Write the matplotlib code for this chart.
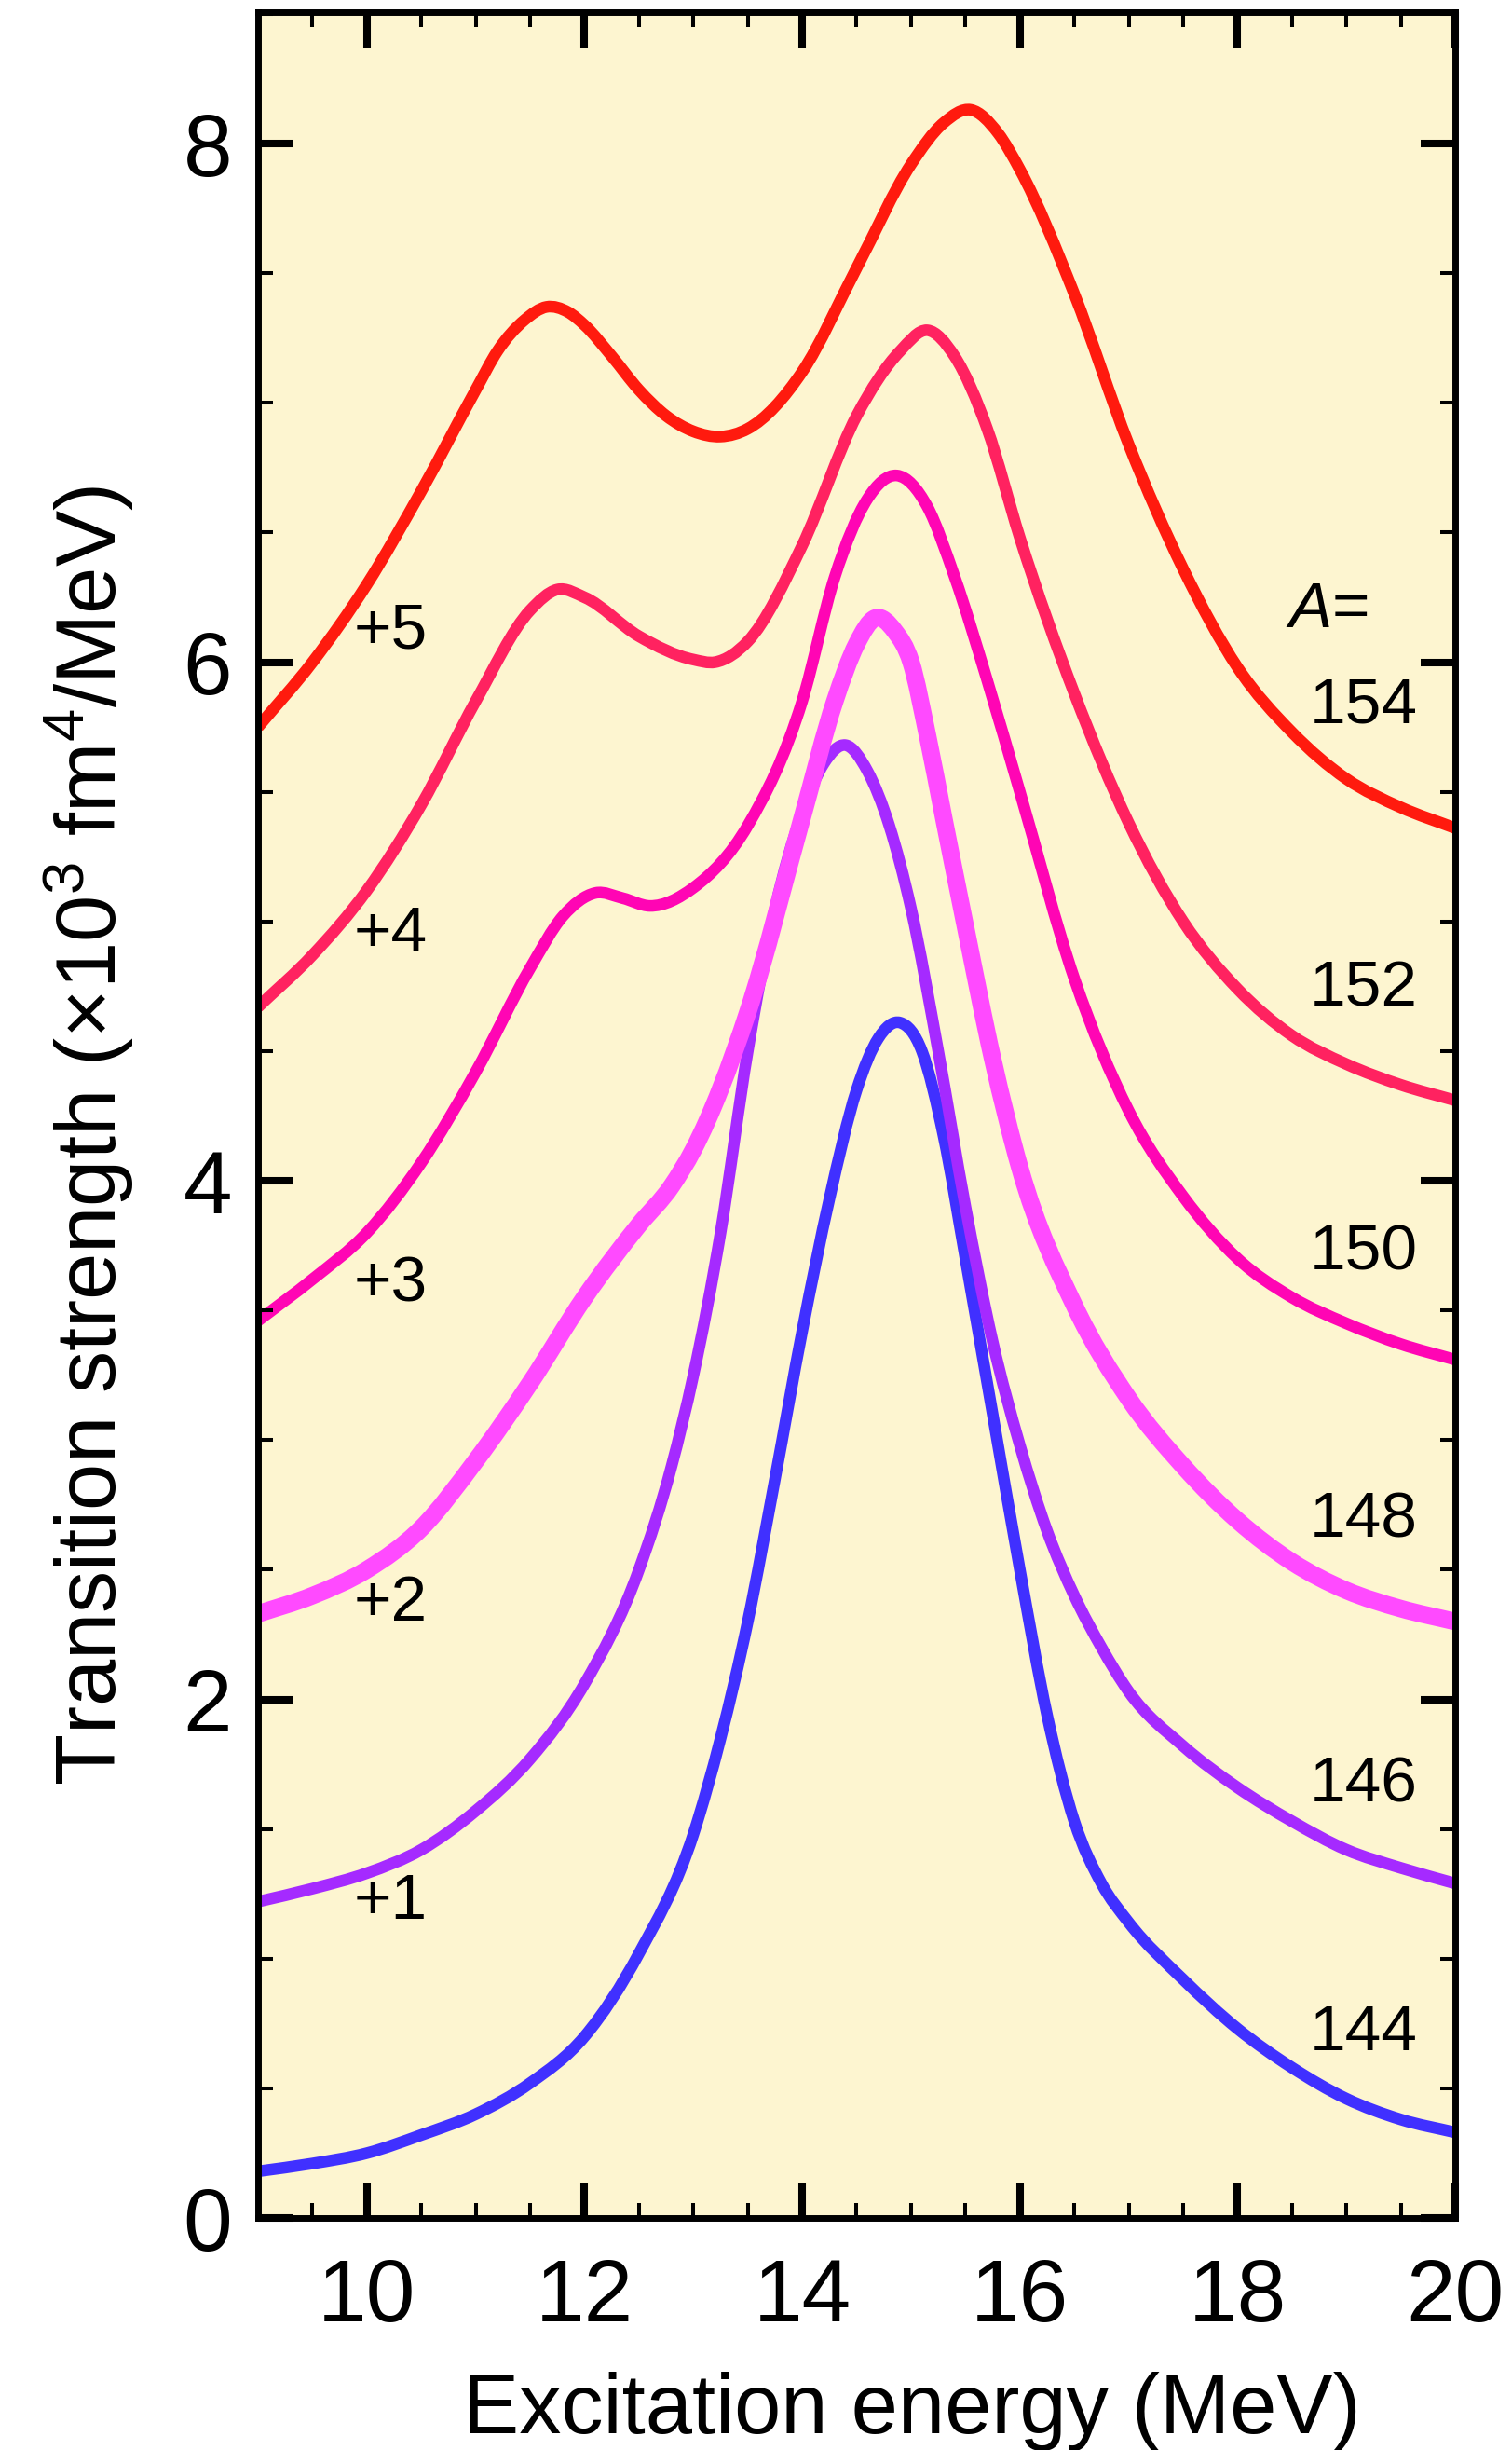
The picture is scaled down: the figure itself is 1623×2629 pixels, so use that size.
import matplotlib
matplotlib.use("Agg")
import matplotlib.pyplot as plt
from matplotlib.ticker import MultipleLocator
from matplotlib.path import Path
from matplotlib.patches import PathPatch

plt.rcParams['font.family'] = ['Liberation Sans', 'DejaVu Sans']
plt.rcParams['mathtext.fontset'] = 'custom'
plt.rcParams['mathtext.rm'] = 'Liberation Sans'
plt.rcParams['mathtext.it'] = 'Liberation Sans:italic'
plt.rcParams['mathtext.default'] = 'regular'

# ---------------- data (vertical offsets already included) ----
x144 = [9.0, 9.5, 10.0, 10.5, 11.0, 11.5, 12.0, 12.5, 13.0, 13.25, 13.5, 13.75, 14.0,
        14.25, 14.5, 14.7, 14.9, 15.1, 15.3, 15.5, 15.75, 16.0, 16.25, 16.5, 16.75,
        17.0, 17.5, 18.0, 18.5, 19.0, 19.5, 20.0]
y144 = [0.18, 0.21, 0.25, 0.32, 0.40, 0.52, 0.70, 1.02, 1.48, 1.85, 2.30, 2.85, 3.42,
        3.93, 4.35, 4.55, 4.61, 4.50, 4.17, 3.70, 3.10, 2.50, 1.94, 1.53, 1.29,
        1.14, 0.92, 0.73, 0.58, 0.46, 0.38, 0.33]

x146 = [9.0, 9.5, 10.0, 10.5, 11.0, 11.5, 12.0, 12.5, 12.8, 13.0, 13.25, 13.5, 13.75,
        14.0, 14.2, 14.4, 14.6, 14.8, 15.0, 15.25, 15.5, 15.75, 16.0, 16.25, 16.5,
        16.75, 17.0, 17.5, 18.0, 18.5, 19.0, 19.5, 20.0]
y146 = [1.22, 1.27, 1.33, 1.42, 1.57, 1.77, 2.06, 2.50, 2.90, 3.25, 3.80, 4.50, 5.05,
        5.42, 5.61, 5.68, 5.58, 5.37, 5.05, 4.50, 3.90, 3.38, 2.98, 2.65, 2.40,
        2.20, 2.03, 1.82, 1.66, 1.53, 1.42, 1.35, 1.29]

x148 = [9.0, 9.5, 10.0, 10.5, 11.0, 11.5, 12.0, 12.5, 12.8, 13.0, 13.5, 14.0, 14.3,
        14.5, 14.67, 14.85, 15.0, 15.15, 15.3, 15.5, 15.75, 16.0, 16.5, 17.0, 17.5,
        18.0, 18.5, 19.0, 19.5, 20.0]
y148 = [2.33, 2.40, 2.50, 2.66, 2.92, 3.22, 3.55, 3.83, 3.98, 4.12, 4.65, 5.40, 5.85,
        6.07, 6.17, 6.12, 6.00, 5.72, 5.40, 4.98, 4.47, 4.05, 3.52, 3.16, 2.90,
        2.69, 2.53, 2.42, 2.35, 2.30]

x150 = [9.0, 9.5, 10.0, 10.5, 11.0, 11.5, 11.8, 12.1, 12.35, 12.6, 13.0, 13.5, 14.0,
        14.3, 14.6, 14.87, 15.15, 15.4, 15.7, 16.0, 16.5, 17.0, 17.5, 18.0, 18.5,
        19.0, 19.5, 20.0]
y150 = [3.46, 3.62, 3.80, 4.07, 4.42, 4.82, 5.02, 5.11, 5.09, 5.06, 5.13, 5.37, 5.85,
        6.33, 6.63, 6.72, 6.60, 6.33, 5.93, 5.50, 4.78, 4.27, 3.94, 3.70, 3.55,
        3.45, 3.37, 3.31]

x152 = [9.0, 9.5, 10.0, 10.5, 11.0, 11.5, 11.75, 12.0, 12.5, 13.0, 13.2, 13.5, 14.0,
        14.5, 14.9, 15.15, 15.4, 15.7, 16.0, 16.5, 17.0, 17.5, 18.0, 18.5, 19.0,
        19.5, 20.0]
y152 = [4.67, 4.87, 5.12, 5.45, 5.85, 6.20, 6.28, 6.25, 6.10, 6.01, 6.00, 6.08, 6.45,
        6.95, 7.20, 7.28, 7.18, 6.90, 6.48, 5.88, 5.38, 5.00, 4.74, 4.56, 4.45,
        4.37, 4.31]

x154 = [9.0, 9.5, 10.0, 10.5, 11.0, 11.2, 11.45, 11.65, 11.85, 12.0, 12.25, 12.5,
        12.75, 13.0, 13.25, 13.5, 14.0, 14.5, 15.0, 15.3, 15.55, 15.8, 16.0, 16.5,
        17.0, 17.5, 18.0, 18.5, 19.0, 19.5, 20.0]
y154 = [5.75, 6.00, 6.30, 6.66, 7.05, 7.20, 7.32, 7.37, 7.35, 7.30, 7.18, 7.05,
        6.95, 6.89, 6.87, 6.90, 7.12, 7.52, 7.92, 8.08, 8.13, 8.04, 7.90, 7.42,
        6.84, 6.36, 5.98, 5.73, 5.55, 5.44, 5.36]

mass_labels = ["144", "146", "148", "150", "152", "154"]
offset_labels = ["+1", "+2", "+3", "+4", "+5"]
xticks = [10, 12, 14, 16, 18, 20]
yticks = [0, 2, 4, 6, 8]

series = [(x144, y144), (x146, y146), (x148, y148), (x150, y150), (x152, y152), (x154, y154)]
colors = ['#4030FF', '#A52AFF', '#FF4AFF', '#FF05B4', '#FF2260', '#FF1A0E']
widths = [9.0, 9.0, 13.5, 9.0, 9.0, 9.0]

# label positions (data coords)
mass_label_y = [0.71, 1.67, 2.69, 3.72, 4.74, 5.83]
offset_label_y = [1.22, 2.37, 3.60, 4.95, 6.12]


def smooth_path(xs, ys):
    """Cubic Bezier path passing through every read point (drawing only)."""
    n = len(xs)
    d = [(ys[i + 1] - ys[i]) / (xs[i + 1] - xs[i]) for i in range(n - 1)]
    m = [d[0]]
    for i in range(1, n - 1):
        h0 = xs[i] - xs[i - 1]
        h1 = xs[i + 1] - xs[i]
        m.append((h1 * d[i - 1] + h0 * d[i]) / (h0 + h1))
    m.append(d[-1])
    verts = [(xs[0], ys[0])]
    codes = [Path.MOVETO]
    for i in range(n - 1):
        h = xs[i + 1] - xs[i]
        verts += [(xs[i] + h / 3, ys[i] + m[i] * h / 3),
                  (xs[i + 1] - h / 3, ys[i + 1] - m[i + 1] * h / 3),
                  (xs[i + 1], ys[i + 1])]
        codes += [Path.CURVE4] * 3
    return Path(verts, codes)


# ---------------- figure ----------------
W, H = 1624, 2629
fig = plt.figure(figsize=(W / 100, H / 100), dpi=100)
ax = fig.add_axes([277 / W, 1 - 2380 / H, (1562 - 277) / W, (2380 - 13) / H])
ax.set_facecolor('#FDF5D0')

for (xs, ys), c, lw in zip(series, colors, widths):
    ax.add_patch(PathPatch(smooth_path(xs, ys), facecolor='none', edgecolor=c,
                           lw=lw, capstyle='butt', joinstyle='round'))

fs_lab = 50
for lab, yv in zip(offset_labels, offset_label_y):
    ax.text(9.88, yv, lab, fontsize=fs_lab, ha='left', va='center')
for lab, yv in zip(mass_labels, mass_label_y):
    ax.text(18.66, yv, lab, fontsize=fs_lab, ha='left', va='center')
ax.text(18.44, 6.20, '$\\mathit{A}$=', fontsize=fs_lab, ha='left', va='center')

ax.set_xlim(9, 20)
ax.set_ylim(0, 8.507)
ax.set_xticks(xticks)
ax.set_yticks(yticks)
ax.xaxis.set_minor_locator(MultipleLocator(0.5))
ax.yaxis.set_minor_locator(MultipleLocator(0.5))
ax.tick_params(which='both', direction='in', top=True, right=True, labelsize=68)
ax.tick_params(axis='x', which='major', pad=30)
ax.tick_params(axis='y', which='major', pad=20)
ax.tick_params(which='major', length=27, width=5.8)
ax.tick_params(which='minor', length=11.5, width=2.9)
for s in ax.spines.values():
    s.set_linewidth(5.0)

fig.text(979 / W, 1 - 2611 / H, 'Excitation energy (MeV)', fontsize=65,
         ha='center', va='baseline')
fig.text(95 / W, 1 - 1219 / H, 'Transition strength (×10$^{3}$ fm$^{4}$/MeV)',
         fontsize=65, rotation=90, ha='center', va='center')

fig.savefig('out.png', dpi=100)
